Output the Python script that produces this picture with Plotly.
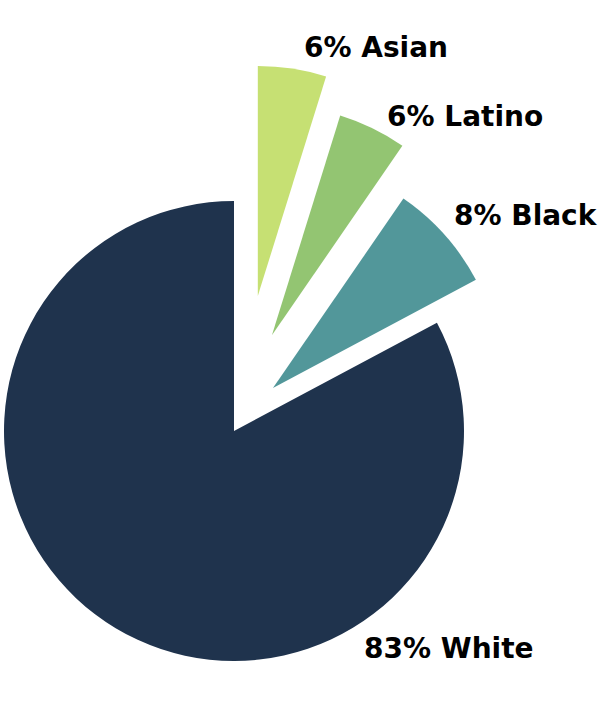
import math
import plotly.graph_objects as go

# ---- data ----
groups = ["Asian", "Latino", "Black", "White"]
label_pct = [6, 6, 8, 83]                 # percentages printed in labels
slice_share = [4.8, 4.8, 7.6, 82.8]        # angular share as drawn
colors = ["#c6e073", "#93c572", "#52979a", "#1f334d"]

# ---- layout / style ----
W, H = 600, 704
CX, CY, R = 234, 431, 230                  # main pie centre and radius (px)
explode_px = [137, 103, 58, 0]             # explosion distance (px)
explode_deg = [10.0, 21.6, 42.2, 0]        # explosion direction, clockwise from 12 o'clock
label_pos = [(302, 48), (385, 116), (452, 215), (362, 648)]  # left x, centre y (px)
FONT = "DejaVu Sans"

fig = go.Figure()
for i, g in enumerate(groups):
    a = math.radians(explode_deg[i])
    cx = CX + explode_px[i] * math.sin(a)
    cy = CY - explode_px[i] * math.cos(a)
    cols = ["rgba(0,0,0,0)"] * len(groups)
    cols[i] = colors[i]
    fig.add_trace(go.Pie(
        labels=groups,
        values=slice_share,
        sort=False,
        direction="clockwise",
        rotation=0,
        marker=dict(colors=cols, line=dict(width=0)),
        textinfo="none",
        hoverinfo="skip",
        showlegend=False,
        domain=dict(
            x=[(cx - R) / W, (cx + R) / W],
            y=[1 - (cy + R) / H, 1 - (cy - R) / H],
        ),
    ))

for i, g in enumerate(groups):
    lx, ly = label_pos[i]
    fig.add_annotation(
        x=lx / W, y=1 - ly / H, xref="paper", yref="paper",
        xanchor="left", yanchor="middle",
        text=f"<b>{label_pct[i]}% {g}</b>",
        showarrow=False,
        font=dict(family=FONT, size=28, color="#000000"),
    )

fig.update_layout(
    width=W, height=H,
    margin=dict(l=0, r=0, t=0, b=0),
    paper_bgcolor="white",
    plot_bgcolor="white",
    showlegend=False,
)

fig.write_html(
    "out.html",
    config={"displayModeBar": False},
    post_script="document.body.style.margin='0';document.body.style.overflow='hidden';",
)
